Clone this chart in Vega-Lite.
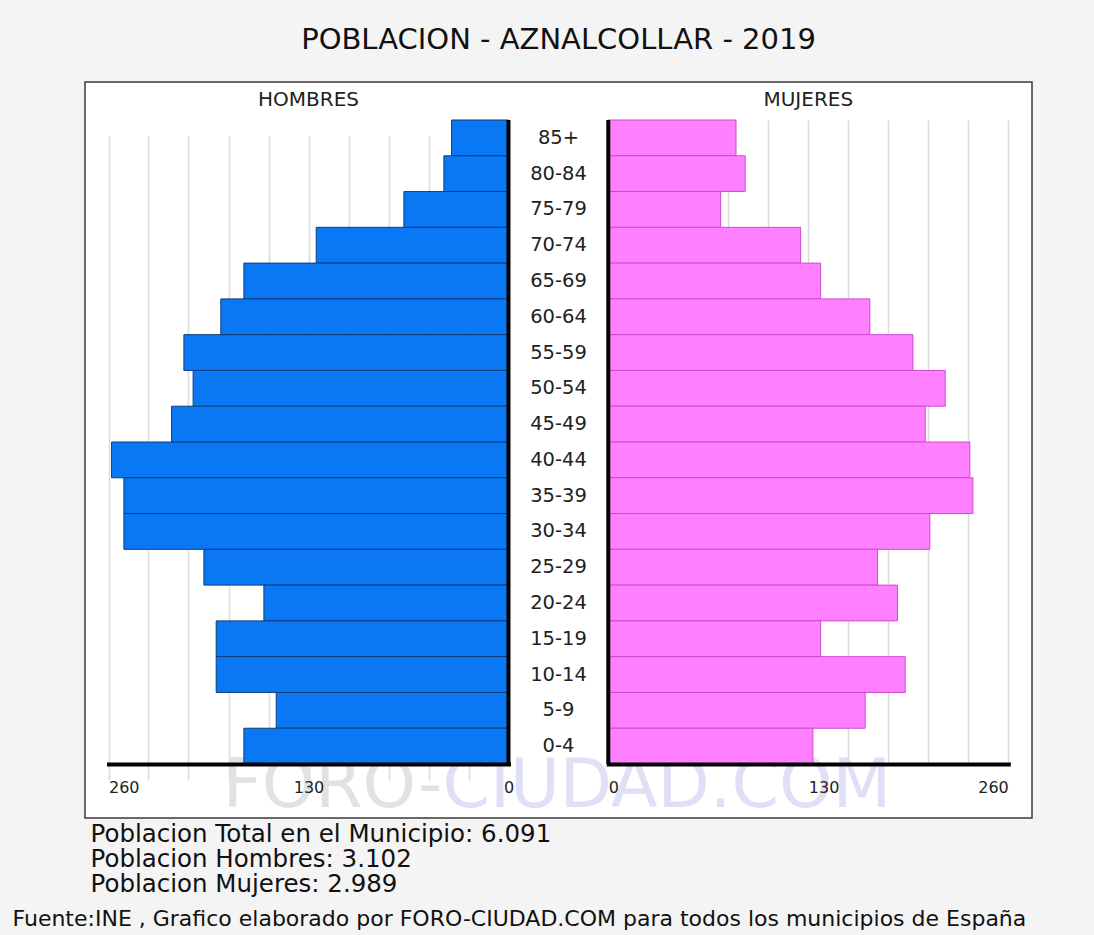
{
  "$schema": "https://vega.github.io/schema/vega-lite/v6.json",
  "autosize": {"type": "none"},
  "padding": {"left": 85, "top": 82, "right": 62, "bottom": 117},
  "width": 947,
  "height": 736,
  "background": "#f4f4f4",
  "config": {
    "font": "DejaVu Sans",
    "view": {"stroke": "#3a3a3a", "strokeWidth": 1.5, "fill": "white"}
  },
  "title": {
    "text": "POBLACION - AZNALCOLLAR - 2019",
    "font": "DejaVu Sans",
    "fontSize": 29,
    "fontWeight": "normal",
    "color": "#111111",
    "anchor": "middle",
    "frame": "group",
    "offset": 27
  },
  "data": {
    "values": [
      {"age": "85+", "hombres": 37, "mujeres": 83},
      {"age": "80-84", "hombres": 42, "mujeres": 89},
      {"age": "75-79", "hombres": 68, "mujeres": 73},
      {"age": "70-74", "hombres": 125, "mujeres": 125},
      {"age": "65-69", "hombres": 172, "mujeres": 138},
      {"age": "60-64", "hombres": 187, "mujeres": 170},
      {"age": "55-59", "hombres": 211, "mujeres": 198},
      {"age": "50-54", "hombres": 205, "mujeres": 219},
      {"age": "45-49", "hombres": 219, "mujeres": 206},
      {"age": "40-44", "hombres": 258, "mujeres": 235},
      {"age": "35-39", "hombres": 250, "mujeres": 237},
      {"age": "30-34", "hombres": 250, "mujeres": 209},
      {"age": "25-29", "hombres": 198, "mujeres": 175},
      {"age": "20-24", "hombres": 159, "mujeres": 188},
      {"age": "15-19", "hombres": 190, "mujeres": 138},
      {"age": "10-14", "hombres": 190, "mujeres": 193},
      {"age": "5-9", "hombres": 151, "mujeres": 167},
      {"age": "0-4", "hombres": 172, "mujeres": 133}
    ]
  },
  "resolve": {"scale": {"x": "independent"}, "axis": {"x": "independent"}},
  "layer": [
    {
      "data": {"values": [{}]},
      "mark": {"type": "text", "text": "FORO-", "align": "right", "baseline": "middle", "fontSize": 68, "color": "#e2e2e2", "dx": -116, "dy": 41},
      "encoding": {
        "y": {"datum": "0-4", "type": "nominal", "axis": null,
          "scale": {"domain": ["85+","80-84","75-79","70-74","65-69","60-64","55-59","50-54","45-49","40-44","35-39","30-34","25-29","20-24","15-19","10-14","5-9","0-4"], "range": [38, 682], "paddingInner": 0, "paddingOuter": 0}}
      }
    },
    {
      "data": {"values": [{}]},
      "mark": {"type": "text", "text": "CIUDAD.COM", "align": "left", "baseline": "middle", "fontSize": 68, "color": "#dfdff6", "dx": -116, "dy": 41},
      "encoding": {
        "y": {"datum": "0-4", "type": "nominal", "axis": null}
      }
    },
    {
      "data": {"values": [{}]},
      "mark": {"type": "text", "text": "HOMBRES", "align": "center", "baseline": "middle", "fontSize": 20, "color": "#222222", "dy": -20},
      "encoding": {
        "x": {"datum": 130, "type": "quantitative",
          "scale": {"domain": [0, 260], "range": [423.5, 23.5], "nice": false, "zero": true},
          "axis": {"grid": true, "gridColor": "#dcdcdc", "gridWidth": 1.5, "domain": false, "labels": false, "ticks": false, "title": null,
            "values": [26, 52, 78, 104, 130, 156, 182, 208, 234, 260]}},
        "y": {"datum": "85+", "type": "nominal", "bandPosition": 0, "axis": null}
      }
    },
    {
      "data": {"values": [{}]},
      "mark": {"type": "text", "text": "MUJERES", "align": "center", "baseline": "middle", "fontSize": 20, "color": "#222222", "dy": -20},
      "encoding": {
        "x": {"datum": 130, "type": "quantitative",
          "scale": {"domain": [0, 260], "range": [523.3, 923.3], "nice": false, "zero": true},
          "axis": {"grid": true, "gridColor": "#dcdcdc", "gridWidth": 1.5, "domain": false, "labels": false, "ticks": false, "title": null,
            "values": [26, 52, 78, 104, 130, 156, 182, 208, 234, 260]}},
        "y": {"datum": "85+", "type": "nominal", "bandPosition": 0, "axis": null}
      }
    },
    {
      "mark": {"type": "bar", "color": "#0a78f5", "stroke": "#0f3d78", "strokeWidth": 1},
      "encoding": {
        "x": {"field": "hombres", "type": "quantitative",
          "scale": {"domain": [0, 260], "range": [423.5, 23.5], "nice": false, "zero": true},
          "axis": {
            "orient": "bottom", "offset": -54, "zindex": 1,
            "values": [0, 130, 260], "grid": false, "ticks": false,
            "domain": true, "domainColor": "#000000", "domainWidth": 4, "domainCap": "square",
            "labelFontSize": 16, "labelColor": "#222222", "labelPadding": 15,
            "labelAlign": {"condition": {"test": "datum.value === 260", "value": "left"}, "value": "center"},
            "title": ["Poblacion Total en el Municipio: 6.091", "Poblacion Hombres: 3.102", "Poblacion Mujeres: 2.989"],
            "titleX": 5, "titleY": 58, "titleAlign": "left", "titleBaseline": "top", "titleAnchor": "start",
            "titleFontSize": 24.5, "titleFontWeight": "normal", "titleColor": "#111111", "titleLineHeight": 25
          }},
        "y": {"field": "age", "type": "nominal", "axis": null}
      }
    },
    {
      "mark": {"type": "bar", "color": "#ff80ff", "stroke": "#d048d0", "strokeWidth": 1},
      "encoding": {
        "x": {"field": "mujeres", "type": "quantitative",
          "scale": {"domain": [0, 260], "range": [523.3, 923.3], "nice": false, "zero": true},
          "axis": {
            "orient": "bottom", "offset": -54, "zindex": 1,
            "values": [0, 130, 260], "grid": false, "ticks": false,
            "domain": true, "domainColor": "#000000", "domainWidth": 4, "domainCap": "square",
            "labelFontSize": 16, "labelColor": "#222222", "labelPadding": 15,
            "labelAlign": {"condition": {"test": "datum.value === 260", "value": "right"}, "value": {"condition": {"test": "datum.value === 0", "value": "left"}, "value": "center"}},
            "title": "Fuente:INE , Grafico elaborado por FORO-CIUDAD.COM para todos los municipios de España",
            "titleX": -73, "titleY": 154, "titleAlign": "left", "titleBaseline": "middle", "titleAnchor": "start",
            "titleFontSize": 22, "titleFontWeight": "normal", "titleColor": "#111111"
          }},
        "y": {"field": "age", "type": "nominal", "axis": null}
      }
    },
    {
      "mark": {"type": "text", "fontSize": 19.5, "color": "#222222", "align": "center", "baseline": "middle"},
      "encoding": {
        "y": {"field": "age", "type": "nominal", "axis": null},
        "text": {"field": "age", "type": "nominal"}
      }
    },
    {
      "data": {"values": [{}]},
      "mark": {"type": "rule", "color": "#000000", "strokeWidth": 4},
      "encoding": {
        "x": {"datum": 0, "type": "quantitative", "axis": null,
          "scale": {"domain": [0, 260], "range": [423.5, 23.5], "nice": false, "zero": true}},
        "y": {"datum": "85+", "type": "nominal", "bandPosition": 0, "axis": null},
        "y2": {"datum": "0-4", "bandPosition": 1}
      }
    },
    {
      "data": {"values": [{}]},
      "mark": {"type": "rule", "color": "#000000", "strokeWidth": 4},
      "encoding": {
        "x": {"datum": 0, "type": "quantitative", "axis": null,
          "scale": {"domain": [0, 260], "range": [523.3, 923.3], "nice": false, "zero": true}},
        "y": {"datum": "85+", "type": "nominal", "bandPosition": 0, "axis": null},
        "y2": {"datum": "0-4", "bandPosition": 1}
      }
    }
  ]
}
